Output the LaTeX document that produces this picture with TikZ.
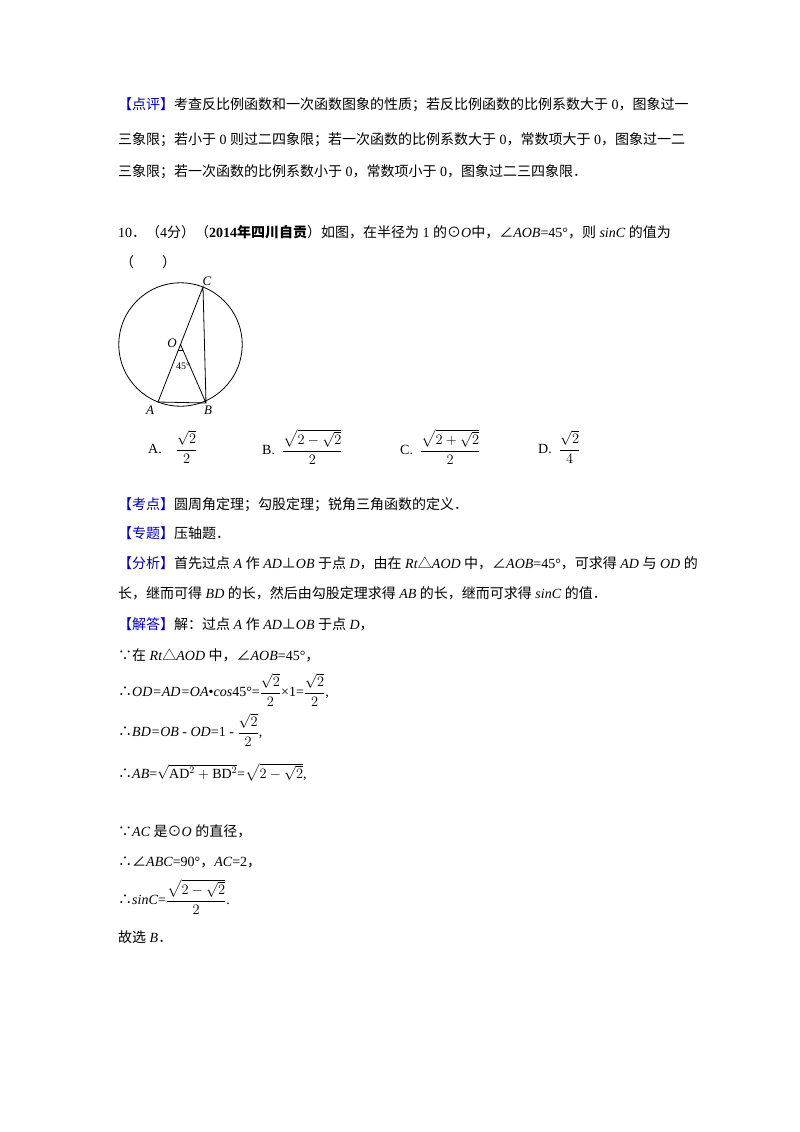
\documentclass[tikz,border=0pt]{standalone}
\usetikzlibrary{calc}
\usepackage{amsmath}
\usepackage{fontspec}
\setmainfont{Liberation Serif}
\newfontfamily\zhf{Noto Sans CJK SC}
\newcommand{\z}[1]{{\zhf #1}}
\newcommand{\bl}[1]{{\zhf\color{blue!70!black}【#1】}}
\begin{document}
\begin{tikzpicture}[x=1pt,y=-1pt,t/.style={anchor=west,inner sep=0pt,font=\fontsize{14}{16}\selectfont}]
\useasboundingbox (0,0) rectangle (800,1132);
\node[t] (l1) at (118,105) {\bl{点评}\z{考查反比例函数和一次函数图象的性质；若反比例函数的比例系数大于} 0\z{，图象过一}};
\node[t] (l2) at (118,140) {\z{三象限；若小于} 0 \z{则过二四象限；若一次函数的比例系数大于} 0\z{，常数项大于} 0\z{，图象过一二}};
\node[t] (l3) at (118,172) {\z{三象限；若一次函数的比例系数小于} 0\z{，常数项小于} 0\z{，图象过二三四象限．}};
\node[t] (l4) at (118,232) {10\z{．（}4\z{分）（}\textbf{2014}\z{\bfseries 年四川自贡}\z{）如图，在半径为} 1 \z{的⊙}\textit{O}\z{中，∠}\textit{AOB}=45°\z{，则} \textit{sinC} \z{的值为}};
\node[t] (l5) at (120,262) {\z{（\qquad）}};
% figure
\coordinate (O) at (180.5,344.5);
\coordinate (A) at (158,402);
\coordinate (B) at (206,403);
\coordinate (C) at (203,287);
\draw[line width=0.8pt] (O) circle (61.7);
\draw[line width=0.8pt] (A) -- (C) -- (B) -- (A) (O) -- (B);
\draw[line width=0.6pt] ($(O)!6pt!(A)$) arc[start angle=248,end angle=292,radius=6];
\node[font=\itshape\fontsize{13}{13}\selectfont] (nC) at (207,281) {C};
\node[font=\itshape\fontsize{13}{13}\selectfont] (nO) at (172,343) {O};
\node[font=\itshape\fontsize{13}{13}\selectfont] (nA) at (150,410) {A};
\node[font=\itshape\fontsize{13}{13}\selectfont] (nB) at (208,410) {B};
\node[font=\fontsize{10}{10}\selectfont] (n45) at (183,366) {45°};
% options
\node[t] (oA) at (148,447) {A.\quad $\dfrac{\sqrt2}{2}$};
\node[t] (oB) at (262,447) {B.\ \ $\dfrac{\sqrt{2-\sqrt2}}{2}$};
\node[t] (oC) at (400,447) {C.\ \ $\dfrac{\sqrt{2+\sqrt2}}{2}$};
\node[t] (oD) at (538,447) {D.\ \ $\dfrac{\sqrt2}{4}$};
\node[t] (k1) at (118,505) {\bl{考点}\z{圆周角定理；勾股定理；锐角三角函数的定义．}};
\node[t] (k2) at (118,533) {\bl{专题}\z{压轴题．}};
\node[t] (k3) at (118,563) {\bl{分析}\z{首先过点} \textit{A} \z{作} \textit{AD}\z{⊥}\textit{OB} \z{于点} \textit{D}\z{，由在} \textit{Rt}\z{△}\textit{AOD} \z{中，∠}\textit{AOB}=45°\z{，可求得} \textit{AD} \z{与} \textit{OD} \z{的}};
\node[t] (k4) at (118,593) {\z{长，继而可得} \textit{BD} \z{的长，然后由勾股定理求得} \textit{AB} \z{的长，继而可求得} \textit{sinC} \z{的值．}};
\node[t] (k5) at (118,624) {\bl{解答}\z{解：过点} \textit{A} \z{作} \textit{AD}\z{⊥}\textit{OB} \z{于点} \textit{D}\z{，}};
\node[t] (k6) at (118,655) {\z{∵在} \textit{Rt}\z{△}\textit{AOD} \z{中，∠}\textit{AOB}=45°\z{，}};
\node[t] (k7) at (118,690) {\z{∴}\textit{OD=AD=OA}•\textit{cos}45°=$\dfrac{\sqrt2}{2}$×1=$\dfrac{\sqrt2}{2}$,};
\node[t] (k8) at (118,730) {\z{∴}\textit{BD=OB} - \textit{OD}=1 - $\dfrac{\sqrt2}{2}$,};
\node[t] (k9) at (118,772) {\z{∴}\textit{AB}=$\sqrt{\mathrm{AD}^2+\mathrm{BD}^2}$=$\sqrt{2-\sqrt2}$,};
\node[t] (k10) at (118,831) {\z{∵}\textit{AC} \z{是⊙}\textit{O} \z{的直径，}};
\node[t] (k11) at (118,862) {\z{∴∠}\textit{ABC}=90°\z{，}\textit{AC}=2\z{，}};
\node[t] (k12) at (118,897) {\z{∴}\textit{sinC}=$\dfrac{\sqrt{2-\sqrt2}}{2}$.};
\node[t] (k13) at (118,937) {\z{故选} \textit{B}\z{．}};
\end{tikzpicture}
\end{document}
